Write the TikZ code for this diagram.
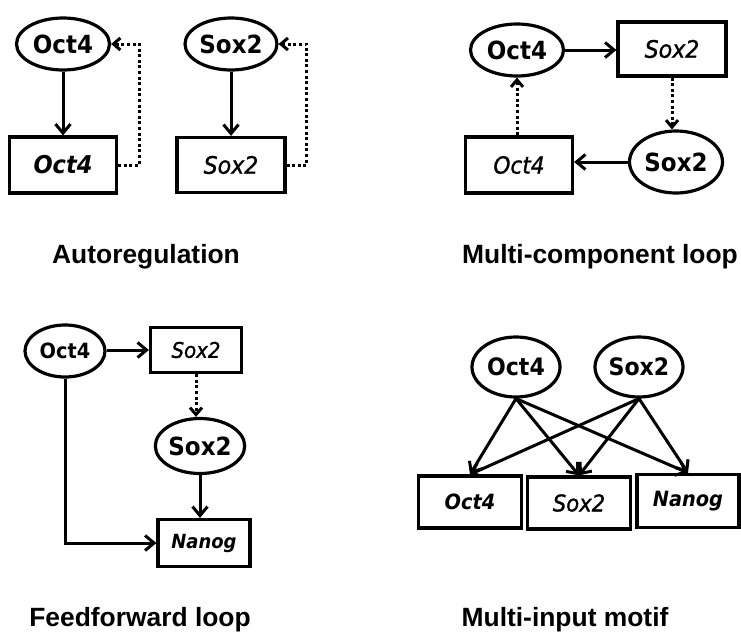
\documentclass[tikz,border=0pt]{standalone}
\usepackage{fontspec}
\setmainfont{DejaVu Sans}
\newfontfamily\nodefont{DejaVu Sans}[FakeStretch=0.92, ItalicFeatures={FakeBold=1.2}]
\newfontfamily\labfont{Liberation Sans}
\usetikzlibrary{shapes.geometric,arrows.meta}
\newcommand{\fsz}[1]{\fontsize{#1}{#1}\selectfont}
\tikzset{
  ell/.style={ellipse, draw, line width=3.2pt, inner sep=0pt, font=\nodefont\bfseries\fsz{25}},
  gbox/.style={rectangle, draw, line width=3.2pt, inner sep=0pt, font=\nodefont\itshape\fsz{24}},
  bgbox/.style={gbox, font=\nodefont\bfseries\itshape\fsz{24.5}},
  act/.style={line width=3pt, -{Straight Barb[length=9pt,width=15pt]}},
  dact/.style={line width=3pt, dash pattern=on 3pt off 2.6pt, -{Straight Barb[length=7pt,width=12pt]}},
  caption/.style={font=\labfont\bfseries\fsz{26.4}, anchor=base, inner sep=0pt}
}
\begin{document}
\begin{tikzpicture}[x=1pt,y=-1pt]
\useasboundingbox (0,0) rectangle (741,635);
% Autoregulation
\node[ell, minimum width=93pt, minimum height=52pt] (a1e) at (63,44) {Oct4};
\node[bgbox, minimum width=107pt, minimum height=56pt] (a1b) at (63,165) {Oct4};
\node[ell, minimum width=92pt, minimum height=52pt] (a2e) at (231,44) {Sox2};
\node[gbox, minimum width=108pt, minimum height=55pt] (a2b) at (231,165) {Sox2};
\draw[act] (a1e) -- (a1b);
\draw[act] (a2e) -- (a2b);
\draw[dact] (a1b.east) -- ++(21,0) |- (a1e.east);
\draw[dact] (a2b.east) -- ++(20,0) |- (a2e.east);
\node[caption] (l1) at (146,263) {Autoregulation};
% Multi-component loop
\node[ell, minimum width=93pt, minimum height=52pt] (mOe) at (517,50) {Oct4};
\node[gbox, minimum width=108pt, minimum height=54pt] (mSb) at (672,49) {Sox2};
\node[ell, minimum width=93pt, minimum height=62pt] (mSe) at (676,162) {Sox2};
\node[gbox, minimum width=107pt, minimum height=56pt, font=\nodefont\itshape\fsz{23.5}] (mOb) at (519,165) {Oct4};
\draw[act] (mOe.east) -- (mOe.east -| mSb.west);
\draw[dact] (mSb.south) -- (mSb.south |- mSe.north);
\draw[act] (mSe.west) -- (mSe.west -| mOb.east);
\draw[dact] (mOe.south |- mOb.north) -- (mOe.south);
\node[caption] (l2) at (600,263) {Multi-component loop};
% Feedforward loop
\node[ell, minimum width=80pt, minimum height=52pt, font=\nodefont\bfseries\fsz{21}] (fOe) at (65,351) {Oct4};
\node[gbox, minimum width=91pt, minimum height=45pt, font=\nodefont\itshape\fsz{21.5}] (fSb) at (196,350) {Sox2};
\node[ell, minimum width=78pt, minimum height=55pt] (fSe) at (200,446) {Sox2};
\node[bgbox, minimum width=92pt, minimum height=47pt, font=\nodefont\bfseries\itshape\fsz{19.5}] (fNb) at (204,543) {Nanog};
\draw[act] (fOe.east |- fSb.west) -- (fSb.west);
\draw[dact] (fSb.south) -- (fSb.south |- fSe.north);
\draw[act] (fSe.south) -- (fSe.south |- fNb.north);
\draw[act] (fOe.south) |- (fNb.west);
\node[caption] (l3) at (140,626) {Feedforward loop};
% Multi-input motif
\node[ell, minimum width=88pt, minimum height=60pt, font=\nodefont\bfseries\fsz{24}] (iOe) at (516,367) {Oct4};
\node[ell, minimum width=88pt, minimum height=60pt, font=\nodefont\bfseries\fsz{24}] (iSe) at (639,367) {Sox2};
\node[bgbox, minimum width=103pt, minimum height=52pt, font=\nodefont\bfseries\itshape\fsz{21}] (iOb) at (470,502) {Oct4};
\node[gbox, minimum width=103pt, minimum height=52pt, font=\nodefont\itshape\fsz{23}] (iSb) at (579,503) {Sox2};
\node[bgbox, minimum width=102pt, minimum height=53pt, font=\nodefont\bfseries\itshape\fsz{21}] (iNb) at (688,501) {Nanog};
\foreach \t in {iOb,iSb,iNb}{
  \draw[act] (iOe.south) -- (\t.north);
  \draw[act] (iSe.south) -- (\t.north);
}
\node[caption] (l4) at (565,626) {Multi-input motif};
\end{tikzpicture}
\end{document}
